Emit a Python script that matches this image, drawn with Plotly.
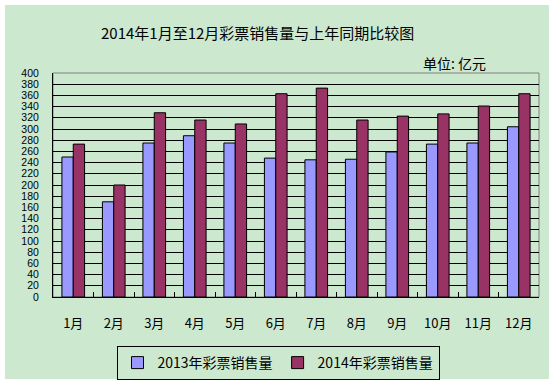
import plotly.graph_objects as go

months = ["1月", "2月", "3月", "4月", "5月", "6月", "7月", "8月", "9月", "10月", "11月", "12月"]
sales_2013 = [250, 170, 275, 288, 275, 248, 245, 246, 259, 273, 275, 304]
sales_2014 = [273, 200, 329, 316, 309, 363, 373, 316, 323, 327, 341, 363]
name_2013 = "2013年彩票销售量"
name_2014 = "2014年彩票销售量"
title_text = "2014年1月至12月彩票销售量与上年同期比较图"
unit_text = "单位: 亿元"

FONT = "Noto Sans CJK SC"
GREEN = "#CCE8CF"

fig = go.Figure()
fig.add_trace(go.Bar(x=months, y=sales_2013, name=name_2013,
                     marker=dict(color="#9999FF", line=dict(color="black", width=1))))
fig.add_trace(go.Bar(x=months, y=sales_2014, name=name_2014,
                     marker=dict(color="#993366", line=dict(color="black", width=1))))

L, R, T, B = 53, 15, 73, 87
W, H = 554, 384
pw, ph = W - L - R, H - T - B

fig.update_layout(
    width=W, height=H,
    margin=dict(l=L, r=R, t=T, b=B, autoexpand=False),
    paper_bgcolor="white",
    plot_bgcolor="rgba(0,0,0,0)",
    font=dict(family=FONT, color="black", size=13),
    barmode="group",
    bargap=0.44,
    bargroupgap=0,
    showlegend=True,
    legend=dict(orientation="h", x=(278 - L) / pw, xanchor="center",
                y=(H - B - 346) / ph, yanchor="top",
                bordercolor="black", borderwidth=1, bgcolor="rgba(0,0,0,0)",
                font=dict(size=14, family=FONT)),
    xaxis=dict(showline=True, linecolor="black", linewidth=1, automargin=False,
               ticks="inside", ticklen=5, tickcolor="black", tickson="boundaries",
               showgrid=False, ticklabelstandoff=14,
               tickfont=dict(size=13)),
    yaxis=dict(range=[0, 400], dtick=20, tick0=0, automargin=False,
               showline=True, linecolor="black", linewidth=1,
               ticks="inside", ticklen=4, tickcolor="black",
               showgrid=True, gridcolor="black", gridwidth=1,
               zeroline=False, ticklabelstandoff=11,
               tickfont=dict(size=10.5, family="Liberation Sans")),
    shapes=[
        dict(type="rect", xref="paper", yref="paper",
             x0=(5 - L) / pw, x1=(549 - L) / pw,
             y0=(H - B - 379) / ph, y1=(H - B - 5) / ph,
             fillcolor=GREEN, line=dict(width=0), layer="below"),
        dict(type="rect", xref="paper", yref="paper", x0=0, x1=1, y0=0, y1=1,
             line=dict(color="#808080", width=1), layer="between"),
    ],
    annotations=[
        dict(text=title_text, xref="paper", yref="paper",
             x=(257 - L) / pw, y=(H - B - 33) / ph, xanchor="center", yanchor="middle",
             showarrow=False, font=dict(size=15, family=FONT)),
        dict(text=unit_text, xref="paper", yref="paper",
             x=(488 - L) / pw, y=(H - B - 63) / ph, xanchor="right", yanchor="middle",
             showarrow=False, font=dict(size=14, family=FONT)),
    ],
)

fig.write_html("out.html", config={"displayModeBar": False},
               post_script="document.body.style.margin='0';")
